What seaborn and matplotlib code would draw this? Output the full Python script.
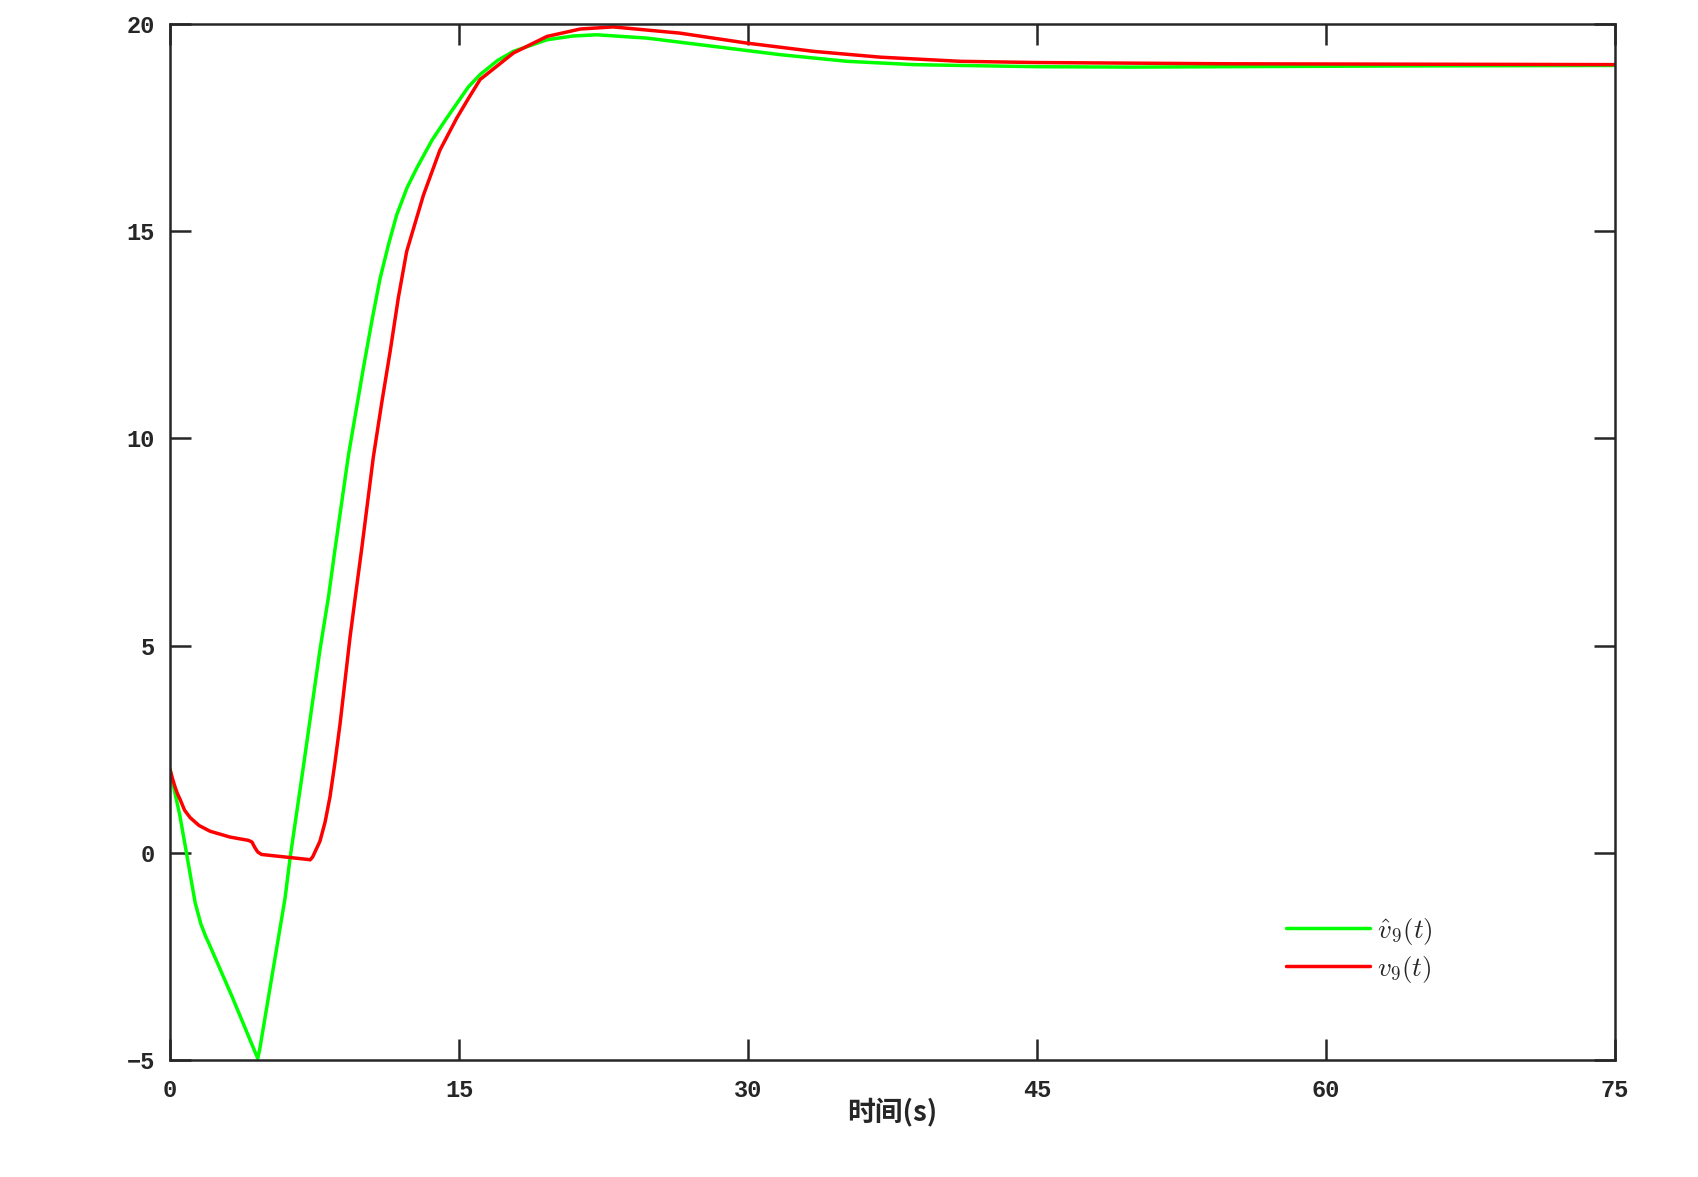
import pandas as pd
import seaborn as sns
import matplotlib
matplotlib.use("Agg")
import matplotlib.pyplot as plt

# estimated velocity (green)
t_hat = [0, 0.25, 0.5, 0.85, 1.3, 1.6, 1.85, 2.0, 3.2, 4.45, 4.55, 4.65,
         5.97, 6.23, 6.92, 7.78, 8.22, 8.56, 9.26, 10.03, 10.5, 10.9,
         11.35, 11.76, 12.3, 12.8, 13.6, 14.36, 15.48, 16.09, 17.0, 17.82,
         19.56, 20.9, 22.15, 24.75, 28.21, 31.67, 35.13, 38.59, 41.03,
         45.0, 50.0, 55.0, 65.0, 75.0]
v_hat = [2.0, 1.45, 0.92, 0.0, -1.2, -1.72, -2.02, -2.17, -3.45, -4.85, -4.96, -4.75,
         -1.09, -0.12, 2.08, 4.90, 6.17, 7.32, 9.6, 11.69, 12.9, 13.86,
         14.7, 15.39, 16.05, 16.52, 17.2, 17.73, 18.48, 18.78, 19.12, 19.34,
         19.62, 19.71, 19.74, 19.66, 19.46, 19.26, 19.10, 19.02, 19.0,
         18.97, 18.96, 18.97, 18.99, 19.0]

# actual velocity (red)
t_act = [0, 0.12, 0.25, 0.38, 0.52, 0.75, 1.04, 1.5, 2.08, 3.11, 4.07, 4.25,
         4.41, 4.55, 4.75, 7.15, 7.27, 7.4, 7.78, 8.05, 8.3, 8.55, 8.82,
         9.34, 9.65, 9.95, 10.55, 11.0, 11.42, 11.85, 12.28, 13.15, 14.0,
         14.88, 15.48, 16.09, 17.82, 19.56, 21.3, 23.0, 26.46, 29.93, 33.4,
         36.86, 41.0, 45.0, 55.0, 65.0, 75.0]
v_act = [2.01, 1.8, 1.6, 1.43, 1.29, 1.03, 0.85, 0.66, 0.52, 0.38, 0.30, 0.26,
         0.12, 0.02, -0.04, -0.16, -0.17, -0.1, 0.28, 0.75, 1.35, 2.15, 3.1,
         5.2, 6.3, 7.35, 9.55, 10.9, 12.09, 13.4, 14.51, 15.87, 16.95,
         17.73, 18.2, 18.66, 19.30, 19.70, 19.88, 19.93, 19.78, 19.54, 19.34,
         19.20, 19.10, 19.07, 19.04, 19.03, 19.02]

x_ticks = [0, 15, 30, 45, 60, 75]
y_ticks = [-5, 0, 5, 10, 15, 20]

sns.set_style("ticks")
plt.rcParams["font.family"] = ["Liberation Mono", "DejaVu Sans"]
plt.rcParams["font.weight"] = "bold"
plt.rcParams["mathtext.fontset"] = "cm"

fig = plt.figure(figsize=(16.99, 11.77), dpi=100)
ax = fig.add_axes([0.1001, 0.0994, 0.8505, 0.8802])

df_hat = pd.DataFrame({"t": t_hat, "v": v_hat})
df_act = pd.DataFrame({"t": t_act, "v": v_act})
sns.lineplot(data=df_hat, x="t", y="v", ax=ax, color="#00ff00", linewidth=2.5,
             estimator=None, label=r"$\hat{v}_9(t)$")
sns.lineplot(data=df_act, x="t", y="v", ax=ax, color="#ff0000", linewidth=2.5,
             estimator=None, label=r"$v_9(t)$")

ax.set_xlim(0, 75)
ax.set_ylim(-5, 20)
ax.set_xticks(x_ticks)
ax.set_yticks(y_ticks)
ax.tick_params(direction="in", length=15, width=1.8, top=True, right=True,
               labelsize=17, colors="#262626")
ax.tick_params(axis="x", pad=14)
ax.tick_params(axis="y", pad=11)
for sp in ax.spines.values():
    sp.set_linewidth(1.8)
    sp.set_color("#262626")

ax.set_ylabel("")
ax.set_xlabel("时间(s)", family=["Noto Sans CJK SC", "DejaVu Sans"],
              fontweight="bold", fontsize=20, color="#262626")
ax.xaxis.set_label_coords(0.5, -0.036)

ax.legend(loc="center left", bbox_to_anchor=(0.772, 0.106), frameon=False,
          fontsize=19.5, handlelength=3.1, handletextpad=0.27,
          labelspacing=0.25, borderpad=0, borderaxespad=0)

fig.savefig("out.png", dpi=100)
